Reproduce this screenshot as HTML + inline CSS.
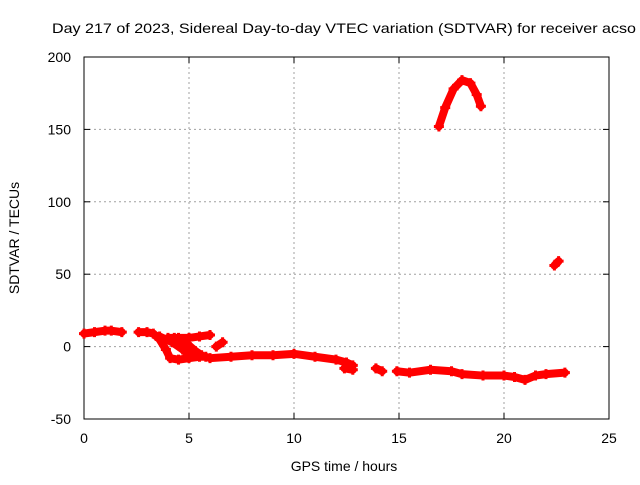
<!DOCTYPE html>
<html><head><meta charset="utf-8"><style>
body{margin:0;background:#fff;overflow:hidden}
svg{font-family:"Liberation Sans",sans-serif;font-size:14px}
</style></head><body>
<svg width="640" height="480">
<g id="grid"></g>
<g id="axes"></g>
<g id="marks"></g>
<text x="52" y="33" textLength="584" lengthAdjust="spacingAndGlyphs" style="font-size:14px">Day 217 of 2023, Sidereal Day-to-day VTEC variation (SDTVAR) for receiver acso</text>
<text x="344" y="471" text-anchor="middle">GPS time / hours</text>
<text transform="translate(19,238) rotate(-90)" text-anchor="middle">SDTVAR / TECUs</text>
</svg>
<script>
const xTicks=[0,5,10,15,20,25];
const yTicks=[-50,0,50,100,150,200];
const seg1=[[0,9],[0.5,10],[1,11],[1.3,11],[1.8,10]];
const seg2=[[2.6,10],[3,10],[3.3,9],[3.6,5],[3.9,-2],[4.1,-8],[4.5,-9],[5,-8],[5.5,-7],[5.8,-7]];
const seg2a=[[3.6,7],[4.2,3],[4.7,-2],[5.0,-6]];
const seg2b=[[4.3,6],[4.9,2],[5.3,-3],[5.6,-6]];
const seg2c=[[4,6],[4.5,6],[5,6],[5.5,7],[6,8]];
const seg3=[[6.3,0],[6.6,3]];
const seg4=[[6,-8],[7,-7],[8,-6],[9,-6],[10,-5],[11,-7],[12,-9],[12.5,-11],[12.8,-13]];
const seg4b=[[12.4,-15],[12.8,-16]];
const seg5=[[13.9,-15],[14.2,-17]];
const seg6=[[14.9,-17],[15.5,-18],[16.5,-16],[17.5,-17],[18,-19],[19,-20],[20,-20],[20.5,-21],[21,-23],[21.5,-20],[22,-19],[22.9,-18]];
const seg7=[[16.9,152],[17.2,165],[17.6,178],[18,184],[18.4,182],[18.7,174],[18.9,166]];
const seg8=[[22.4,56],[22.6,59]];
const segments=[seg1,seg2,seg2a,seg2b,seg2c,seg3,seg4,seg4b,seg5,seg6,seg7,seg8];
const X0=84,X1=609,Y0=419,Y1=57;
const sx=h=>X0+(h-0)/25*(X1-X0);
const sy=v=>Y0-(v+50)/250*(Y0-Y1);
const NS="http://www.w3.org/2000/svg";
function mk(t,a,p){const e=document.createElementNS(NS,t);for(const k in a)e.setAttribute(k,a[k]);p.appendChild(e);return e;}
const grid=document.getElementById('grid'),axes=document.getElementById('axes'),marks=document.getElementById('marks');
xTicks.forEach(t=>{const x=sx(t);
 if(t>0&&t<25){const l=mk('line',{x1:x,x2:x,y1:Y1,y2:Y0,stroke:'#a0a0a0','stroke-dasharray':'2,3'},grid);}
 mk('line',{x1:x,x2:x,y1:Y0,y2:Y0-6,stroke:'#000'},axes);mk('line',{x1:x,x2:x,y1:Y1,y2:Y1+6,stroke:'#000'},axes);
 const tx=mk('text',{x:x,y:Y0+24,'text-anchor':'middle'},axes);tx.textContent=t;
 });
yTicks.forEach(t=>{const y=sy(t);
 if(t>-50&&t<200){const l=mk('line',{x1:X0,x2:X1,y1:y,y2:y,stroke:'#a0a0a0','stroke-dasharray':'2,3'},grid);}
 mk('line',{x1:X0,x2:X0+6,y1:y,y2:y,stroke:'#000'},axes);mk('line',{x1:X1,x2:X1-6,y1:y,y2:y,stroke:'#000'},axes);
 const tx=mk('text',{x:X0-13,y:y+5,'text-anchor':'end'},axes);tx.textContent=t;
 });
mk('rect',{x:X0,y:Y1,width:X1-X0,height:Y0-Y1,fill:'none',stroke:'#000'},axes);
segments.forEach(s=>{
 const pl=mk('polyline',{points:s.map(p=>sx(p[0])+','+sy(p[1])).join(' '),fill:'none',stroke:'#f00','stroke-width':8,'stroke-linejoin':'round','stroke-linecap':'round'},marks);
 
 s.forEach(p=>{const x=sx(p[0]),y=sy(p[1]);
  const m=mk('path',{d:`M${x-5},${y}H${x+5}M${x},${y-5}V${y+5}`,stroke:'#f00','stroke-width':3},marks);
  });
});
</script>
</body></html>
